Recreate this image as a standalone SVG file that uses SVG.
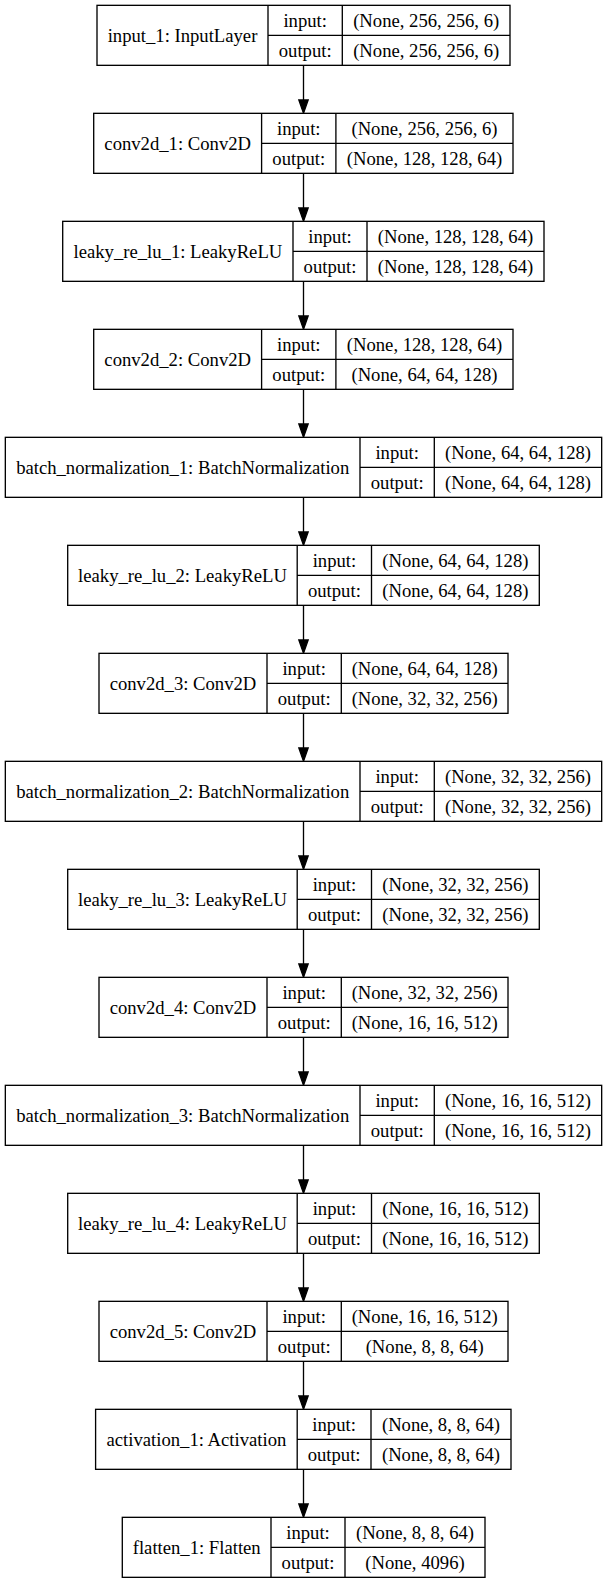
<svg xmlns="http://www.w3.org/2000/svg" width="607" height="1583" viewBox="0 0 607 1583">
<style>
.b{fill:#fff;stroke:#000;stroke-width:1.33}
.d{stroke:#000;stroke-width:1.33;fill:none}
text{font-family:"Liberation Serif","Times New Roman",serif;font-size:18.67px;fill:#000;text-anchor:middle}
.e line{stroke:#000;stroke-width:1.33}
.e polygon{fill:#000;stroke:#000;stroke-width:1.33}
</style>
<rect width="607" height="1583" fill="#fff"/>
<g class="e" id="connectors">
<line x1="303.5" y1="65.33" x2="303.5" y2="100"/><polygon points="298.83,100 308.17,100 303.5,113.33"/>
<line x1="303.5" y1="173.33" x2="303.5" y2="208"/><polygon points="298.83,208 308.17,208 303.5,221.33"/>
<line x1="303.5" y1="281.33" x2="303.5" y2="316"/><polygon points="298.83,316 308.17,316 303.5,329.33"/>
<line x1="303.5" y1="389.33" x2="303.5" y2="424"/><polygon points="298.83,424 308.17,424 303.5,437.33"/>
<line x1="303.5" y1="497.33" x2="303.5" y2="532"/><polygon points="298.83,532 308.17,532 303.5,545.33"/>
<line x1="303.5" y1="605.33" x2="303.5" y2="640"/><polygon points="298.83,640 308.17,640 303.5,653.33"/>
<line x1="303.5" y1="713.33" x2="303.5" y2="748"/><polygon points="298.83,748 308.17,748 303.5,761.33"/>
<line x1="303.5" y1="821.33" x2="303.5" y2="856"/><polygon points="298.83,856 308.17,856 303.5,869.33"/>
<line x1="303.5" y1="929.33" x2="303.5" y2="964"/><polygon points="298.83,964 308.17,964 303.5,977.33"/>
<line x1="303.5" y1="1037.33" x2="303.5" y2="1072"/><polygon points="298.83,1072 308.17,1072 303.5,1085.33"/>
<line x1="303.5" y1="1145.33" x2="303.5" y2="1180"/><polygon points="298.83,1180 308.17,1180 303.5,1193.33"/>
<line x1="303.5" y1="1253.33" x2="303.5" y2="1288"/><polygon points="298.83,1288 308.17,1288 303.5,1301.33"/>
<line x1="303.5" y1="1361.33" x2="303.5" y2="1396"/><polygon points="298.83,1396 308.17,1396 303.5,1409.33"/>
<line x1="303.5" y1="1469.33" x2="303.5" y2="1504"/><polygon points="298.83,1504 308.17,1504 303.5,1517.33"/>
</g>

<g id="n1" transform="translate(0,5.33)">
<rect class="b" x="97" y="0" width="413" height="60"/>
<path class="d" d="M268,0V60M342.3,0V60M268,30H510"/>
<text x="182.5" y="37">input_1: InputLayer</text>
<text x="305.2" y="22">input:</text><text x="305.2" y="52">output:</text>
<text x="426.2" y="22">(None, 256, 256, 6)</text><text x="426.2" y="52">(None, 256, 256, 6)</text>
</g>

<g id="n2" transform="translate(0,113.33)">
<rect class="b" x="93.7" y="0" width="419.3" height="60"/>
<path class="d" d="M261.6,0V60M335.9,0V60M261.6,30H513"/>
<text x="177.7" y="37">conv2d_1: Conv2D</text>
<text x="298.8" y="22">input:</text><text x="298.8" y="52">output:</text>
<text x="424.5" y="22">(None, 256, 256, 6)</text><text x="424.5" y="52">(None, 128, 128, 64)</text>
</g>

<g id="n3" transform="translate(0,221.33)">
<rect class="b" x="62.7" y="0" width="481.3" height="60"/>
<path class="d" d="M293,0V60M367,0V60M293,30H544"/>
<text x="177.9" y="37">leaky_re_lu_1: LeakyReLU</text>
<text x="330" y="22">input:</text><text x="330" y="52">output:</text>
<text x="455.5" y="22">(None, 128, 128, 64)</text><text x="455.5" y="52">(None, 128, 128, 64)</text>
</g>

<g id="n4" transform="translate(0,329.33)">
<rect class="b" x="93.7" y="0" width="419.3" height="60"/>
<path class="d" d="M261.6,0V60M335.9,0V60M261.6,30H513"/>
<text x="177.7" y="37">conv2d_2: Conv2D</text>
<text x="298.8" y="22">input:</text><text x="298.8" y="52">output:</text>
<text x="424.5" y="22">(None, 128, 128, 64)</text><text x="424.5" y="52">(None, 64, 64, 128)</text>
</g>

<g id="n5" transform="translate(0,437.33)">
<rect class="b" x="5.33" y="0" width="596.34" height="60"/>
<path class="d" d="M360,0V60M434.3,0V60M360,30H601.67"/>
<text x="182.7" y="37">batch_normalization_1: BatchNormalization</text>
<text x="397.2" y="22">input:</text><text x="397.2" y="52">output:</text>
<text x="518" y="22">(None, 64, 64, 128)</text><text x="518" y="52">(None, 64, 64, 128)</text>
</g>

<g id="n6" transform="translate(0,545.33)">
<rect class="b" x="67.7" y="0" width="471.6" height="60"/>
<path class="d" d="M297.2,0V60M371.5,0V60M297.2,30H539.3"/>
<text x="182.5" y="37">leaky_re_lu_2: LeakyReLU</text>
<text x="334.4" y="22">input:</text><text x="334.4" y="52">output:</text>
<text x="455.4" y="22">(None, 64, 64, 128)</text><text x="455.4" y="52">(None, 64, 64, 128)</text>
</g>

<g id="n7" transform="translate(0,653.33)">
<rect class="b" x="99" y="0" width="409" height="60"/>
<path class="d" d="M267,0V60M341.3,0V60M267,30H508"/>
<text x="183" y="37">conv2d_3: Conv2D</text>
<text x="304.2" y="22">input:</text><text x="304.2" y="52">output:</text>
<text x="424.7" y="22">(None, 64, 64, 128)</text><text x="424.7" y="52">(None, 32, 32, 256)</text>
</g>

<g id="n8" transform="translate(0,761.33)">
<rect class="b" x="5.33" y="0" width="596.34" height="60"/>
<path class="d" d="M360,0V60M434.3,0V60M360,30H601.67"/>
<text x="182.7" y="37">batch_normalization_2: BatchNormalization</text>
<text x="397.2" y="22">input:</text><text x="397.2" y="52">output:</text>
<text x="518" y="22">(None, 32, 32, 256)</text><text x="518" y="52">(None, 32, 32, 256)</text>
</g>

<g id="n9" transform="translate(0,869.33)">
<rect class="b" x="67.7" y="0" width="471.6" height="60"/>
<path class="d" d="M297.2,0V60M371.5,0V60M297.2,30H539.3"/>
<text x="182.5" y="37">leaky_re_lu_3: LeakyReLU</text>
<text x="334.4" y="22">input:</text><text x="334.4" y="52">output:</text>
<text x="455.4" y="22">(None, 32, 32, 256)</text><text x="455.4" y="52">(None, 32, 32, 256)</text>
</g>

<g id="n10" transform="translate(0,977.33)">
<rect class="b" x="99" y="0" width="409" height="60"/>
<path class="d" d="M267,0V60M341.3,0V60M267,30H508"/>
<text x="183" y="37">conv2d_4: Conv2D</text>
<text x="304.2" y="22">input:</text><text x="304.2" y="52">output:</text>
<text x="424.7" y="22">(None, 32, 32, 256)</text><text x="424.7" y="52">(None, 16, 16, 512)</text>
</g>

<g id="n11" transform="translate(0,1085.33)">
<rect class="b" x="5.33" y="0" width="596.34" height="60"/>
<path class="d" d="M360,0V60M434.3,0V60M360,30H601.67"/>
<text x="182.7" y="37">batch_normalization_3: BatchNormalization</text>
<text x="397.2" y="22">input:</text><text x="397.2" y="52">output:</text>
<text x="518" y="22">(None, 16, 16, 512)</text><text x="518" y="52">(None, 16, 16, 512)</text>
</g>

<g id="n12" transform="translate(0,1193.33)">
<rect class="b" x="67.7" y="0" width="471.6" height="60"/>
<path class="d" d="M297.2,0V60M371.5,0V60M297.2,30H539.3"/>
<text x="182.5" y="37">leaky_re_lu_4: LeakyReLU</text>
<text x="334.4" y="22">input:</text><text x="334.4" y="52">output:</text>
<text x="455.4" y="22">(None, 16, 16, 512)</text><text x="455.4" y="52">(None, 16, 16, 512)</text>
</g>

<g id="n13" transform="translate(0,1301.33)">
<rect class="b" x="99" y="0" width="409" height="60"/>
<path class="d" d="M267,0V60M341.3,0V60M267,30H508"/>
<text x="183" y="37">conv2d_5: Conv2D</text>
<text x="304.2" y="22">input:</text><text x="304.2" y="52">output:</text>
<text x="424.7" y="22">(None, 16, 16, 512)</text><text x="424.7" y="52">(None, 8, 8, 64)</text>
</g>

<g id="n14" transform="translate(0,1409.33)">
<rect class="b" x="95.6" y="0" width="415.4" height="60"/>
<path class="d" d="M297.2,0V60M371,0V60M297.2,30H511"/>
<text x="196.4" y="37">activation_1: Activation</text>
<text x="334.1" y="22">input:</text><text x="334.1" y="52">output:</text>
<text x="441" y="22">(None, 8, 8, 64)</text><text x="441" y="52">(None, 8, 8, 64)</text>
</g>

<g id="n15" transform="translate(0,1517.33)">
<rect class="b" x="122.3" y="0" width="362.7" height="60"/>
<path class="d" d="M271,0V60M345,0V60M271,30H485"/>
<text x="196.7" y="37">flatten_1: Flatten</text>
<text x="308" y="22">input:</text><text x="308" y="52">output:</text>
<text x="415" y="22">(None, 8, 8, 64)</text><text x="415" y="52">(None, 4096)</text>
</g>
</svg>
